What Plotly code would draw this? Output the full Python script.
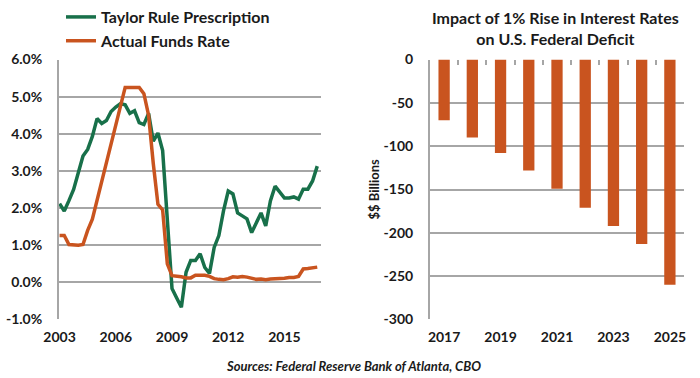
import plotly.graph_objects as go

# ---- Left chart data (quarterly, 2003Q1 .. 2016Q4) ----
start_year = 2003
taylor_rule = [2.12, 1.92, 2.2, 2.5, 2.95, 3.4, 3.58, 3.93, 4.41, 4.28,
               4.36, 4.6, 4.72, 4.81, 4.78, 4.55, 4.62, 4.3, 4.25, 4.55,
               3.8, 4.02, 3.55, 1.7, -0.17, -0.42, -0.67, 0.27, 0.59, 0.59,
               0.77, 0.4, 0.24, 0.94, 1.26, 1.93, 2.46, 2.38, 1.87, 1.79,
               1.71, 1.34, 1.6, 1.87, 1.52, 2.19, 2.59, 2.41, 2.27, 2.27,
               2.3, 2.24, 2.51, 2.51, 2.73, 3.13]
funds_rate = [1.26, 1.26, 1.02, 1.0, 1.0, 1.02, 1.4, 1.7, 2.2, 2.7,
              3.2, 3.7, 4.25, 4.75, 5.25, 5.25, 5.25, 5.25, 5.08, 4.5,
              3.2, 2.1, 1.95, 0.5, 0.18, 0.17, 0.15, 0.12, 0.12, 0.19,
              0.19, 0.19, 0.16, 0.1, 0.08, 0.07, 0.1, 0.15, 0.14, 0.16,
              0.14, 0.12, 0.08, 0.09, 0.07, 0.09, 0.09, 0.1, 0.11, 0.13,
              0.13, 0.16, 0.36, 0.37, 0.39, 0.41]
quarters = [start_year + i / 4 for i in range(len(taylor_rule))]
left_tick_years = [2003, 2006, 2009, 2012, 2015]
left_y_ticks = [-1, 0, 1, 2, 3, 4, 5, 6]
left_y_labels = ["-1.0%", "0.0%", "1.0%", "2.0%", "3.0%", "4.0%", "5.0%", "6.0%"]

# ---- Right chart data ----
deficit_years = ["2017", "2018", "2019", "2020", "2021", "2022", "2023", "2024", "2025"]
deficit_impact = [-70, -90, -108, -128, -149, -171, -192, -213, -260]
right_tick_years = ["2017", "2019", "2021", "2023", "2025"]
right_y_ticks = [0, -50, -100, -150, -200, -250, -300]
right_y_labels = ["0", "-50", "-100", "-150", "-200", "-250", "-300"]

GREEN = "#18704a"
ORANGE = "#c9541f"
GRID = "#a6a6a6"
FONT = "Lato"
TEXT = "#1a1a1a"

fig = go.Figure()
fig.add_trace(go.Scatter(x=quarters, y=taylor_rule, mode="lines",
                         name="Taylor Rule Prescription",
                         line=dict(color=GREEN, width=3.5),
                         xaxis="x", yaxis="y"))
fig.add_trace(go.Scatter(x=quarters, y=funds_rate, mode="lines",
                         name="Actual Funds Rate",
                         line=dict(color=ORANGE, width=3.5),
                         xaxis="x", yaxis="y"))
fig.add_trace(go.Bar(x=deficit_years, y=deficit_impact, marker_color=ORANGE,
                     marker_line_width=0, showlegend=False,
                     xaxis="x2", yaxis="y2"))
# empty helper trace so the top tick-mark axis of the bar chart is drawn
fig.add_trace(go.Scatter(x=[None], y=[None], mode="lines", showlegend=False,
                         hoverinfo="skip", xaxis="x3", yaxis="y2"))

tickfont = dict(family=FONT, size=14, color=TEXT, weight="bold")

fig.update_layout(
    width=700, height=378,
    margin=dict(l=0, r=0, t=0, b=0),
    paper_bgcolor="white", plot_bgcolor="white",
    bargap=0.6,
    showlegend=True,
    legend=dict(x=61 / 700, y=1 + 3 / 378, xanchor="left", yanchor="top",
                font=dict(family=FONT, size=16, color=TEXT, weight="bold"),
                bgcolor="rgba(0,0,0,0)", itemwidth=30, tracegroupgap=0),
    xaxis=dict(domain=[59 / 700, 321 / 700], range=[2002.97, 2016.95],
               tickvals=left_tick_years, ticktext=[str(v) for v in left_tick_years],
               showgrid=False, showline=False, zeroline=False, ticks="",
               tickfont=tickfont, anchor="y", automargin=False,
               ticklabelstandoff=8),
    yaxis=dict(domain=[1 - 319 / 378, 1 - 57 / 378], range=[-1, 6],
               tickvals=left_y_ticks, ticktext=left_y_labels,
               showgrid=True, gridcolor=GRID, gridwidth=1.5,
               showline=True, linecolor=GRID, linewidth=2,
               zeroline=False, ticks="", tickfont=tickfont, anchor="x",
               automargin=False, ticklabelstandoff=12),
    xaxis2=dict(domain=[430 / 700, 684 / 700], type="category",
                categoryorder="array", categoryarray=deficit_years,
                range=[-0.5, 8.5], tickvals=right_tick_years,
                showgrid=False, showline=False, zeroline=False, ticks="",
                tickfont=tickfont, anchor="y2", automargin=False,
                ticklabelstandoff=8),
    xaxis3=dict(domain=[430 / 700, 684 / 700], range=[-0.5, 8.5],
                overlaying="x2", side="top", anchor="y2",
                tickvals=[i - 0.5 for i in range(len(deficit_years) + 1)],
                ticks="inside", ticklen=5, tickwidth=1.5, tickcolor=GRID,
                showticklabels=False, showgrid=False, showline=False,
                zeroline=False, automargin=False),
    yaxis2=dict(domain=[1 - 319 / 378, 1 - 57 / 378], range=[-300, 0],
                tickvals=right_y_ticks, ticktext=right_y_labels,
                showgrid=True, gridcolor=GRID, gridwidth=1.5,
                showline=True, linecolor=GRID, linewidth=2,
                zeroline=False, ticks="", tickfont=tickfont, anchor="x2",
                automargin=False, ticklabelstandoff=12),
    annotations=[
        dict(text="Impact of 1% Rise in Interest Rates<br>on U.S. Federal Deficit",
             x=555 / 700, y=1 - 3 / 378, xref="paper", yref="paper",
             xanchor="center", yanchor="top", showarrow=False,
             font=dict(family=FONT, size=16, color=TEXT, weight="bold")),
        dict(text="$$ Billions", textangle=-90,
             x=374 / 700, y=1 - 188 / 378, xref="paper", yref="paper",
             xanchor="center", yanchor="middle", showarrow=False,
             font=dict(family=FONT, size=13, color=TEXT, weight="bold")),
        dict(text="Sources: Federal Reserve Bank of Atlanta, CBO",
             x=354 / 700, y=1 - 366 / 378, xref="paper", yref="paper",
             xanchor="center", yanchor="middle", showarrow=False,
             font=dict(family=FONT, size=13, color=TEXT, weight="bold",
                       style="italic")),
    ],
)

fig.write_html("out.html", config={"displayModeBar": False},
               post_script="document.body.style.margin='0';")
